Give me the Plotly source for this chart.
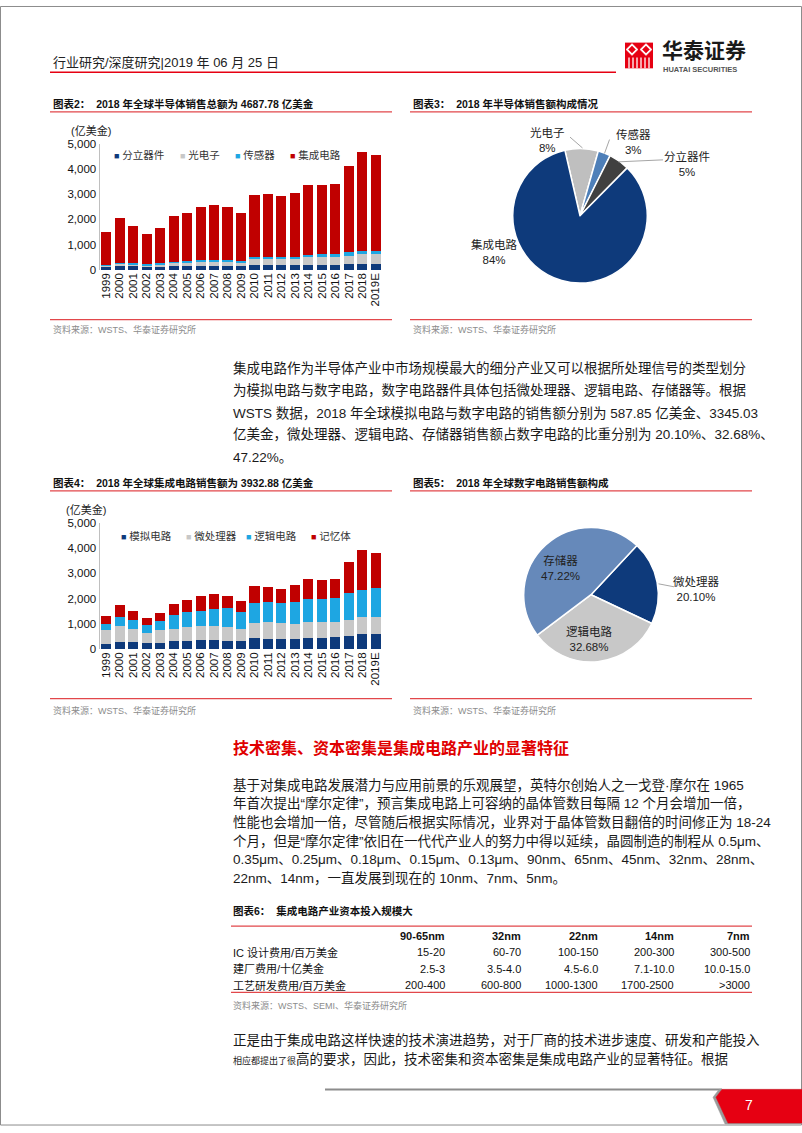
import plotly.graph_objects as go

W, H = 802, 1133
FONT = "Liberation Sans, Arial, Noto Sans CJK SC, sans-serif"


def fx(p):
    return p / W


def fy(p):
    return 1 - p / H


years = ['1999', '2000', '2001', '2002', '2003', '2004', '2005', '2006', '2007', '2008', '2009',
         '2010', '2011', '2012', '2013', '2014', '2015', '2016', '2017', '2018', '2019E']

# 图表2 全球半导体销售额（亿美金）
semi_names = ['分立器件', '光电子', '传感器', '集成电路']
semi_discrete = [130, 170, 140, 130, 130, 150, 150, 160, 170, 170, 140, 200, 190, 190, 180, 200, 190, 190, 220, 241, 240]
semi_opto = [60, 90, 90, 60, 90, 130, 150, 170, 170, 170, 170, 220, 230, 260, 270, 300, 330, 320, 350, 380, 380]
semi_sensor = [20, 30, 30, 30, 40, 50, 50, 50, 50, 50, 50, 80, 80, 80, 80, 90, 90, 110, 120, 134, 130]
semi_ic = [1280, 1750, 1490, 1190, 1400, 1800, 1920, 2100, 2170, 2100, 1900, 2480, 2490, 2390, 2520, 2770, 2740, 2770, 3430, 3933, 3790]

# 图表3 2018 年半导体销售额构成（%）
mix_labels = ['光电子', '传感器', '分立器件', '集成电路']
mix_pct = [8, 3, 5, 84]

# 图表4 全球集成电路销售额（亿美金）
ic_names = ['模拟电路', '微处理器', '逻辑电路', '记忆体']
ic_analog = [222, 300, 287, 248, 261, 313, 313, 366, 366, 339, 313, 431, 418, 392, 392, 444, 457, 483, 531, 588, 613]
ic_micro = [522, 614, 509, 405, 483, 496, 575, 548, 548, 549, 496, 600, 665, 626, 613, 613, 600, 600, 640, 672, 666]
ic_logic = [235, 352, 340, 300, 366, 523, 587, 613, 692, 744, 653, 784, 797, 797, 862, 927, 927, 927, 1031, 1093, 1149]
ic_memory = [313, 496, 378, 274, 300, 470, 457, 575, 574, 457, 444, 678, 587, 561, 653, 797, 758, 771, 1240, 1580, 1358]

# 图表5 2018 年数字电路销售额构成（%）
dig_labels = ['微处理器', '逻辑电路', '存储器']
dig_pct = [20.10, 32.68, 47.22]

# 图表6 集成电路产业资本投入
tbl_nodes = ['90-65nm', '32nm', '22nm', '14nm', '7nm']
tbl_items = ['IC 设计费用/百万美金', '建厂费用/十亿美金', '工艺研发费用/百万美金']
tbl_9065 = ['15-20', '2.5-3', '200-400']
tbl_32 = ['60-70', '3.5-4.0', '600-800']
tbl_22 = ['100-150', '4.5-6.0', '1000-1300']
tbl_14 = ['200-300', '7.1-10.0', '1700-2500']
tbl_7 = ['300-500', '10.0-15.0', '>3000']

para1 = [
    '集成电路作为半导体产业中市场规模最大的细分产业又可以根据所处理信号的类型划分',
    '为模拟电路与数字电路，数字电路器件具体包括微处理器、逻辑电路、存储器等。根据',
    'WSTS 数据，2018 年全球模拟电路与数字电路的销售额分别为 587.85 亿美金、3345.03',
    '亿美金，微处理器、逻辑电路、存储器销售额占数字电路的比重分别为 20.10%、32.68%、',
    '47.22%。',
]
para2 = [
    '基于对集成电路发展潜力与应用前景的乐观展望，英特尔创始人之一戈登·摩尔在 1965',
    '年首次提出“摩尔定律”，预言集成电路上可容纳的晶体管数目每隔 12 个月会增加一倍，',
    '性能也会增加一倍，尽管随后根据实际情况，业界对于晶体管数目翻倍的时间修正为 18-24',
    '个月，但是“摩尔定律”依旧在一代代产业人的努力中得以延续，晶圆制造的制程从 0.5μm、',
    '0.35μm、0.25μm、0.18μm、0.15μm、0.13μm、90nm、65nm、45nm、32nm、28nm、',
    '22nm、14nm，一直发展到现在的 10nm、7nm、5nm。',
]
para3 = [
    '正是由于集成电路这样快速的技术演进趋势，对于厂商的技术进步速度、研发和产能投入',
    "<span style='font-size:9px'>相应都提出了很</span>高的要求，因此，技术密集和资本密集是集成电路产业的显著特征。根据",
]

NAVY = '#0E3A7B'
GREY = '#C8C8C8'
CYAN = '#1EA6E2'
RED = '#C00000'
LINE_RED = '#E2474B'
bar_colors = [NAVY, GREY, CYAN, RED]

fig = go.Figure()

# 柱状图
for name, vals, col in zip(semi_names, [semi_discrete, semi_opto, semi_sensor, semi_ic], bar_colors):
    fig.add_trace(go.Bar(x=years, y=vals, name=name, marker_color=col, marker_line_width=0,
                         xaxis='x', yaxis='y', showlegend=False))
for name, vals, col in zip(ic_names, [ic_analog, ic_micro, ic_logic, ic_memory], bar_colors):
    fig.add_trace(go.Bar(x=years, y=vals, name=name, marker_color=col, marker_line_width=0,
                         xaxis='x2', yaxis='y2', showlegend=False))

# 饼图
fig.add_trace(go.Pie(
    labels=mix_labels, values=mix_pct, sort=False, direction='clockwise', rotation=-13,
    marker=dict(colors=['#BFBFBF', '#4E7FB8', '#404040', NAVY], line=dict(color='white', width=1.5)),
    textinfo='none', showlegend=False,
    domain=dict(x=[fx(512), fx(648)], y=[fy(280), fy(144)]),
))
fig.add_trace(go.Pie(
    labels=dig_labels, values=dig_pct, sort=False, direction='clockwise', rotation=43,
    marker=dict(colors=[NAVY, GREY, '#6689BA'], line=dict(color='white', width=1.5)),
    textinfo='none', showlegend=False,
    domain=dict(x=[fx(523), fx(659)], y=[fy(663), fy(527)]),
))

annotations = []
shapes = []


def add_text(x, y, text, size=11, color='#222', xanchor='left', bold=False):
    annotations.append(dict(
        x=fx(x), y=fy(y), xref='paper', yref='paper', showarrow=False,
        text='<b>%s</b>' % text if bold else text, xanchor=xanchor, yanchor='middle',
        font=dict(size=size, color=color, family=FONT)))


def hline(x0, x1, y, color=LINE_RED, width=1.2):
    shapes.append(dict(type='line', xref='paper', yref='paper', x0=fx(x0), x1=fx(x1),
                       y0=fy(y), y1=fy(y), line=dict(color=color, width=width)))


def seg(x0, y0, x1, y1, color='#A6A6A6', width=1):
    shapes.append(dict(type='line', xref='paper', yref='paper', x0=fx(x0), x1=fx(x1),
                       y0=fy(y0), y1=fy(y1), line=dict(color=color, width=width)))


def path(points, fill, line_color=None):
    d = 'M ' + ' L '.join('%.5f %.5f' % (fx(a), fy(b)) for a, b in points) + ' Z'
    shapes.append(dict(type='path', xref='paper', yref='paper', path=d, fillcolor=fill,
                       line=dict(color=line_color or fill, width=0.5)))


# 页面边框 / 页眉
shapes.append(dict(type='rect', xref='paper', yref='paper', x0=fx(0.5), x1=fx(801.5),
                   y0=fy(1131), y1=fy(0.5), line=dict(color='#8C8C8C', width=1)))
add_text(51, 57, '行业研究/深度研究|2019 年 06 月 25 日', size=13, color='#222')
hline(50, 616, 67, color='#E60012', width=1.5)
shapes.append(dict(type='rect', xref='paper', yref='paper', x0=fx(625), x1=fx(653),
                   y0=fy(63), y1=fy(37), fillcolor='#E60012', line=dict(width=0)))
path([(626, 44), (632, 38), (638, 44), (632, 50)], 'white')
path([(640, 44), (646, 38), (652, 44), (646, 50)], 'white')
path([(628.5, 44), (632, 40.5), (635.5, 44), (632, 47.5)], '#E60012')
path([(642.5, 44), (646, 40.5), (649.5, 44), (646, 47.5)], '#E60012')
for xs in [629, 633, 637, 641, 645, 649]:
    seg(xs, 52, xs, 63, color='white', width=1.3)
add_text(660, 45, '华泰证券', size=21, color='#1a1a1a', bold=True)
add_text(661, 64, 'HUATAI SECURITIES', size=7.5, color='#555', bold=True)

NBSP = '\u00a0\u00a0'
src = '资料来源：WSTS、华泰证券研究所'
legend_item = "<span style='color:%s;font-size:9px'>■</span> %s"

# 图表2
add_text(51, 99, '图表2：' + NBSP + '2018 年全球半导体销售总额为 4687.78 亿美金', size=10.5, color='#111', bold=True)
hline(50, 392, 107)
add_text(69, 126, '(亿美金)', size=11, color='#222')
for lx, name, col in zip([112, 178, 233, 288], semi_names, bar_colors):
    add_text(lx, 151, legend_item % (col, name), size=10.5, color='#333')
hline(50, 392, 317)
add_text(51, 327, src, size=9, color='#8C8C8C')

# 图表3
add_text(411, 99, '图表3：' + NBSP + '2018 年半导体销售额构成情况', size=10.5, color='#111', bold=True)
hline(410, 752, 107)
for (lx, ly), lab, v in zip([(547, 135), (633, 137.5), (687, 159.5), (494, 249)], mix_labels, mix_pct):
    add_text(lx, ly, '%s<br>%d%%' % (lab, v), size=11.5, color='#222', xanchor='center')
seg(570, 132.5, 582.5, 143.5)
seg(604.5, 149, 609.5, 135)
seg(618.5, 157.5, 663, 155.5)
hline(410, 752, 317)
add_text(411, 327, src, size=9, color='#8C8C8C')

# 正文 1
for i, line in enumerate(para1):
    add_text(231, 366 + i * 22.5, line, size=13.5, color='#1a1a1a')

# 图表4
add_text(51, 482, '图表4：' + NBSP + '2018 年全球集成电路销售额为 3932.88 亿美金', size=10.5, color='#111', bold=True)
hline(50, 392, 490)
add_text(64, 508.5, '(亿美金)', size=11, color='#222')
for lx, name, col in zip([119, 184, 244, 309], ic_names, bar_colors):
    add_text(lx, 536, legend_item % (col, name), size=10.5, color='#333')
hline(50, 392, 700)
add_text(51, 712, src, size=9, color='#8C8C8C')

# 图表5
add_text(411, 482, '图表5：' + NBSP + '2018 年全球数字电路销售额构成', size=10.5, color='#111', bold=True)
hline(410, 752, 490)
for (lx, ly), lab, v in zip([(696, 589), (589, 640), (560, 568)], dig_labels, dig_pct):
    add_text(lx, ly, '%s<br>%.2f%%' % (lab, v), size=11.5, color='#222', xanchor='center')
seg(658.5, 584, 674, 587)
hline(410, 752, 700)
add_text(411, 712, src, size=9, color='#8C8C8C')

# 标题与正文 2
add_text(231, 750, '技术密集、资本密集是集成电路产业的显著特征', size=16, color='#E00000', bold=True)
for i, line in enumerate(para2):
    add_text(231, 787 + i * 19, line, size=13.5, color='#1a1a1a')

# 图表6（表格）
add_text(231, 915, '图表6：' + NBSP + '集成电路产业资本投入规模大', size=10.5, color='#111', bold=True)
hline(231, 752, 930)
col_right = [447, 523, 600, 676, 752]
row_y = [956.5, 973, 989.5]
for xr, node in zip(col_right, tbl_nodes):
    add_text(xr, 939.5, node, size=11, color='#111', xanchor='right', bold=True)
for ry, item in zip(row_y, tbl_items):
    add_text(231, ry, item, size=11, color='#111')
for xr, col in zip(col_right, [tbl_9065, tbl_32, tbl_22, tbl_14, tbl_7]):
    for ry, v in zip(row_y, col):
        add_text(xr, ry, v, size=11, color='#111', xanchor='right')
hline(231, 752, 997)
add_text(231, 1010, '资料来源：WSTS、SEMI、华泰证券研究所', size=9, color='#8C8C8C')

for i, line in enumerate(para3):
    add_text(231, 1045 + i * 19.5, line, size=13.5, color='#1a1a1a')

# 页脚
hline(325, 722, 1095, color='#8C8C8C', width=2)
path([(719, 1095), (802, 1095), (802, 1130), (725, 1130), (713, 1103)], '#9A9A9A')
path([(722, 1095), (802, 1095), (802, 1129), (728, 1129), (716, 1103)], '#E60012')
add_text(749, 1111, '7', size=14, color='white', xanchor='center')

axis_x = dict(type='category', tickangle=-90, showline=False, showgrid=False, ticks='',
              tickmode='array', tickvals=years, ticktext=years,
              tickfont=dict(size=11.5, color='#111', family=FONT), fixedrange=True)
axis_y = dict(range=[0, 5000], tickvals=[0, 1000, 2000, 3000, 4000, 5000], tickformat=',',
              showgrid=False, zeroline=False, showline=True, linecolor='#BFBFBF', linewidth=1,
              ticks='', tickfont=dict(size=11.5, color='#111', family=FONT), fixedrange=True)

fig.update_layout(
    width=W, height=H,
    margin=dict(l=0, r=0, t=0, b=0),
    paper_bgcolor='white', plot_bgcolor='white',
    font=dict(family=FONT, color='#222'),
    barmode='stack', bargap=0.25,
    xaxis=dict(axis_x, domain=[fx(99.5), fx(382.5)], anchor='y'),
    yaxis=dict(axis_y, domain=[fy(266.7), fy(139.3)], anchor='x'),
    xaxis2=dict(axis_x, domain=[fx(99.5), fx(382.5)], anchor='y2'),
    yaxis2=dict(axis_y, domain=[fy(650), fy(522.3)], anchor='x2'),
    annotations=annotations,
    shapes=shapes,
)

fig.write_html('out.html', config={'displayModeBar': False},
               post_script="document.body.style.margin='0px';")
